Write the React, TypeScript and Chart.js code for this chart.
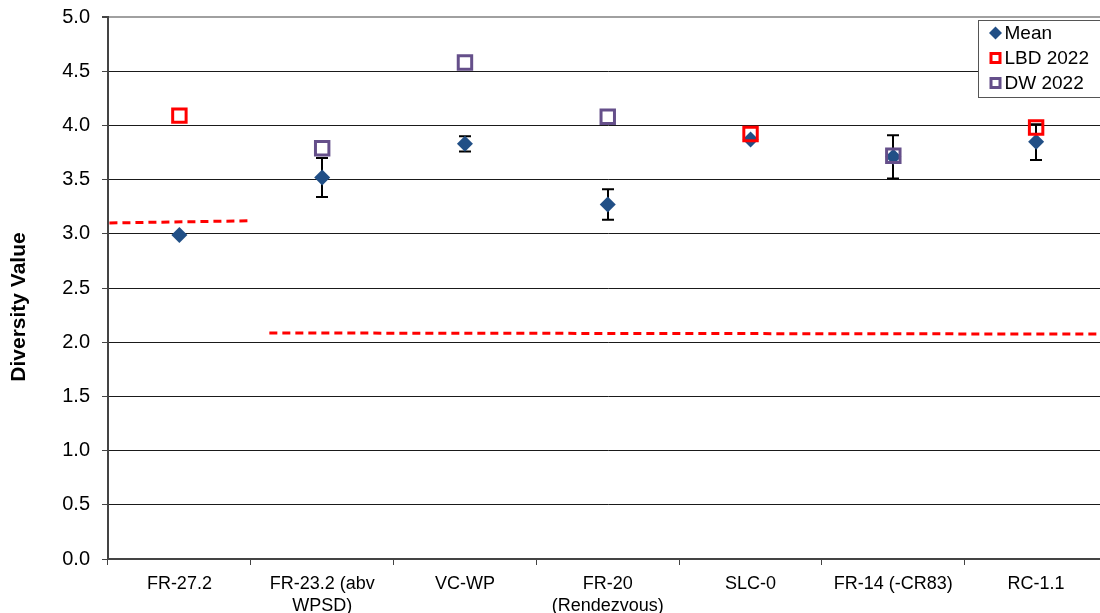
import React, { useEffect, useRef } from "react";
import { Chart, registerables } from "chart.js";

Chart.register(...registerables);

const categories: (string | string[])[] = [
  "FR-27.2",
  ["FR-23.2 (abv", "WPSD)"],
  "VC-WP",
  ["FR-20", "(Rendezvous)"],
  "SLC-0",
  "FR-14 (-CR83)",
  "RC-1.1",
];
const meanValues = [2.99, 3.52, 3.83, 3.27, 3.87, 3.71, 3.85];
const errLow = [null, 3.34, 3.76, 3.13, null, 3.51, 3.68];
const errHigh = [null, 3.70, 3.90, 3.41, null, 3.91, 4.01];
const lbd2022 = [4.09, null, null, null, 3.92, null, 3.98];
const dw2022 = [null, 3.79, 4.58, 4.08, null, 3.72, null];
const threshold1X = [-0.49, 0.5];
const threshold1Y = [3.1, 3.12];
const threshold2X = [0.63, 6.5];
const threshold2Y = [2.085, 2.075];
const yTicks = [0, 0.5, 1, 1.5, 2, 2.5, 3, 3.5, 4, 4.5, 5];
const yTitle = "Diversity Value";

const FONT = "'Liberation Sans', Arial, sans-serif";
const MEAN_COLOR = "#214F86";
const LBD_COLOR = "#FF0000";
const DW_COLOR = "#654F8A";

const toPoints = (vals: (number | null)[]) =>
  vals.map((v, i) => ({ x: i, y: v }));

const errorBarPlugin = {
  id: "errorBars",
  beforeDatasetsDraw(chart: any) {
    const { ctx, scales } = chart;
    const xs = scales.x;
    const ys = scales.y;
    ctx.save();
    ctx.strokeStyle = "#000";
    ctx.lineWidth = 2;
    for (let i = 0; i < meanValues.length; i++) {
      const lo = errLow[i];
      const hi = errHigh[i];
      if (lo == null || hi == null) continue;
      const px = Math.round(xs.getPixelForValue(i));
      const pLo = ys.getPixelForValue(lo);
      const pHi = ys.getPixelForValue(hi);
      ctx.beginPath();
      ctx.moveTo(px, pLo);
      ctx.lineTo(px, pHi);
      ctx.moveTo(px - 6, pLo);
      ctx.lineTo(px + 6, pLo);
      ctx.moveTo(px - 6, pHi);
      ctx.lineTo(px + 6, pHi);
      ctx.stroke();
    }
    ctx.restore();
  },
};

const titlePlugin = {
  id: "yTitle",
  afterDraw(chart: any) {
    const { ctx } = chart;
    ctx.save();
    ctx.translate(19, 307);
    ctx.rotate(-Math.PI / 2);
    ctx.fillStyle = "#000";
    ctx.font = `bold 21px ${FONT}`;
    ctx.textAlign = "center";
    ctx.textBaseline = "middle";
    ctx.fillText(yTitle, 0, 0);
    ctx.restore();
  },
};

const legendPlugin = {
  id: "boxLegend",
  afterDraw(chart: any) {
    const { ctx, chartArea } = chart;
    const left = Math.round(chartArea.right - 130) + 0.5;
    const top = Math.round(chartArea.top + 3) + 0.5;
    ctx.save();
    ctx.fillStyle = "#fff";
    ctx.fillRect(left, top, 140, 77);
    ctx.strokeStyle = "#555";
    ctx.lineWidth = 1;
    ctx.strokeRect(left, top, 140, 77);
    const items = chart.data.datasets.filter((d: any) => d.inLegend);
    items.forEach((d: any, idx: number) => {
      const cy = top + 12.5 + idx * 25;
      const cx = left + 17;
      if (d.pointStyle === "rectRot") {
        ctx.fillStyle = d.backgroundColor;
        ctx.beginPath();
        ctx.moveTo(cx, cy - 6.5);
        ctx.lineTo(cx + 6.5, cy);
        ctx.lineTo(cx, cy + 6.5);
        ctx.lineTo(cx - 6.5, cy);
        ctx.closePath();
        ctx.fill();
      } else {
        ctx.strokeStyle = d.borderColor;
        ctx.lineWidth = 3;
        ctx.strokeRect(cx - 4.5, cy - 4.5, 9, 9);
      }
      ctx.fillStyle = "#000";
      ctx.font = `19px ${FONT}`;
      ctx.textAlign = "left";
      ctx.textBaseline = "middle";
      ctx.fillText(d.label, cx + 9, cy + 1);
    });
    ctx.restore();
  },
};

export default function App() {
  const canvasRef = useRef<HTMLCanvasElement | null>(null);

  useEffect(() => {
    if (!canvasRef.current) return;
    const chart = new Chart(canvasRef.current, {
      type: "scatter",
      data: {
        datasets: [
          {
            type: "line",
            label: "threshold1",
            data: threshold1X.map((x, i) => ({ x, y: threshold1Y[i] })),
            borderColor: LBD_COLOR,
            borderWidth: 3,
            borderDash: [8, 5],
            pointRadius: 0,
            fill: false,
            order: 5,
          } as any,
          {
            type: "line",
            label: "threshold2",
            data: threshold2X.map((x, i) => ({ x, y: threshold2Y[i] })),
            borderColor: LBD_COLOR,
            borderWidth: 3,
            borderDash: [8, 5],
            pointRadius: 0,
            fill: false,
            order: 5,
          } as any,
          {
            label: "Mean",
            inLegend: true,
            data: toPoints(meanValues),
            pointStyle: "rectRot",
            pointRadius: 8,
            backgroundColor: MEAN_COLOR,
            borderColor: MEAN_COLOR,
            borderWidth: 0,
            order: 3,
          } as any,
          {
            label: "LBD 2022",
            inLegend: true,
            data: toPoints(lbd2022),
            pointStyle: "rect",
            pointRadius: 9.5,
            backgroundColor: "rgba(0,0,0,0)",
            borderColor: LBD_COLOR,
            borderWidth: 3,
            order: 2,
          } as any,
          {
            label: "DW 2022",
            inLegend: true,
            data: toPoints(dw2022),
            pointStyle: "rect",
            pointRadius: 9.5,
            backgroundColor: "rgba(0,0,0,0)",
            borderColor: DW_COLOR,
            borderWidth: 3,
            order: 1,
          } as any,
        ],
      },
      options: {
        animation: false,
        responsive: true,
        maintainAspectRatio: false,
        layout: { padding: { top: 17, right: 8, left: 0, bottom: 0 } },
        plugins: {
          legend: { display: false },
          tooltip: { enabled: false },
        },
        scales: {
          x: {
            type: "linear",
            min: -0.5,
            max: 6.5,
            afterBuildTicks: (scale: any) => {
              scale.ticks = categories.map((_, i) => ({ value: i }));
            },
            afterFit: (scale: any) => {
              scale.height = 54;
              scale.paddingLeft = 0;
              scale.paddingRight = 0;
            },
            ticks: {
              autoSkip: false,
              maxRotation: 0,
              minRotation: 0,
              padding: 9,
              color: "#000",
              font: { family: FONT, size: 18, lineHeight: 1.17 },
              callback: (v: any) => categories[Math.round(Number(v))] as any,
            },
            grid: {
              offset: true,
              drawOnChartArea: false,
              tickLength: 6,
              color: "#444",
              lineWidth: 1,
            },
            border: { color: "#444", width: 2 },
          },
          y: {
            type: "linear",
            min: 0,
            max: 5,
            afterBuildTicks: (scale: any) => {
              scale.ticks = yTicks.map((v) => ({ value: v }));
            },
            afterFit: (scale: any) => {
              scale.width = 108;
              scale.paddingTop = 0;
              scale.paddingBottom = 0;
            },
            ticks: {
              padding: 12,
              color: "#000",
              font: { family: FONT, size: 20 },
              callback: (v: any) => Number(v).toFixed(1),
            },
            grid: {
              color: (c: any) =>
                c.tick && c.tick.value === 5 ? "#a0a0a0" : "#1a1a1a",
              lineWidth: (c: any) => (c.tick && c.tick.value === 5 ? 2 : 1),
              tickColor: "#444",
              tickLength: 6,
            },
            border: { color: "#444", width: 2 },
          },
        },
      },
      plugins: [errorBarPlugin, legendPlugin, titlePlugin],
    });
    return () => chart.destroy();
  }, []);

  return (
    <div
      style={{
        position: "fixed",
        left: 0,
        top: 0,
        width: 1100,
        height: 613,
        overflow: "hidden",
        background: "#fff",
      }}
    >
      <div style={{ position: "relative", width: 1120, height: 613 }}>
        <canvas ref={canvasRef} />
      </div>
    </div>
  );
}
